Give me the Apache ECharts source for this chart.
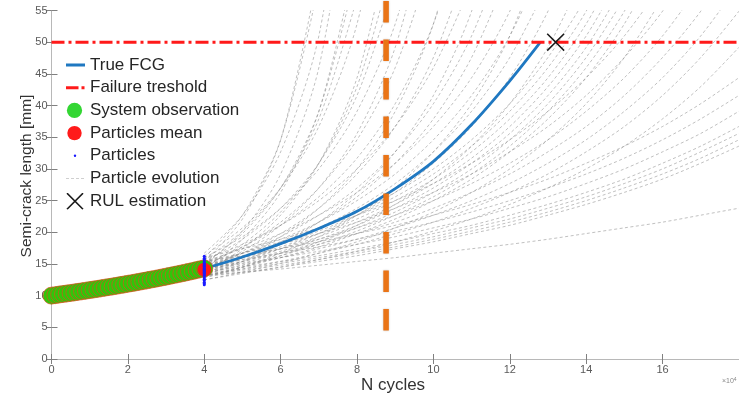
<!DOCTYPE html>
<html>
<head>
<meta charset="utf-8">
<script src="https://cdn.jsdelivr.net/npm/echarts@6/dist/echarts.min.js"></script>
<style>
html,body{margin:0;padding:0;background:#fff;}
#chart{width:739px;height:396px;}
</style>
</head>
<body>
<div id="chart"></div>
<script>
// ---------- data ----------
const xTicks = [0, 2, 4, 6, 8, 10, 12, 14, 16];          // N cycles (x10^4)
const yTicks = [0, 5, 10, 15, 20, 25, 30, 35, 40, 45, 50, 55];

const trueN = [0, 1, 2, 3, 4, 5, 6, 7, 8, 9, 10, 11, 12, 12.8];
const trueA = [10, 10.9, 11.9, 13.0, 14.3, 16.1, 18.2, 20.6, 23.3, 26.9, 31.2, 37.0, 43.9, 50.0];

const obsN = [0, 0.1, 0.2, 0.3, 0.4, 0.5, 0.6, 0.7, 0.8, 0.9, 1.0, 1.1, 1.2, 1.3, 1.4, 1.5, 1.6, 1.7, 1.8, 1.9, 2.0,
              2.1, 2.2, 2.3, 2.4, 2.5, 2.6, 2.7, 2.8, 2.9, 3.0, 3.1, 3.2, 3.3, 3.4, 3.5, 3.6, 3.7, 3.8, 3.9, 4.0];
const obsA = [10.0, 10.08, 10.17, 10.25, 10.34, 10.42, 10.51, 10.60, 10.69, 10.78, 10.87, 10.97, 11.06, 11.16, 11.26, 11.35, 11.45, 11.55, 11.66, 11.76, 11.87,
              11.97, 12.08, 12.19, 12.30, 12.41, 12.53, 12.64, 12.76, 12.88, 13.00, 13.12, 13.25, 13.37, 13.50, 13.63, 13.76, 13.89, 14.03, 14.17, 14.30];

const meanN = [4];
const meanA = [14.1];

const particleN = 4;
const particleA = [11.7, 11.9, 12.1, 12.4, 12.6, 12.8, 13.0, 13.2, 13.4, 13.5, 13.7, 13.8, 14.0, 14.1, 14.2, 14.3, 14.5, 14.6, 14.8, 15.0, 15.1, 15.3, 15.5, 15.7, 15.9, 16.2];

const thresholdN = [0, 18];
const thresholdA = [50, 50];

const rulN = [13.2];
const rulA = [50];

const cutN = [8.76, 8.76];
const cutA = [56.5, 4.3];

const evolutionN = [4, 5, 6, 7, 8, 9, 10, 11, 12, 13, 14, 15, 16, 17, 18];
const particleEvolution = [
  [15.4, 22.1, 34.6, 61.5],
  [16.0, 22.7, 34.6, 59.2],
  [14.8, 20.2, 29.2, 46.0, 82.6],
  [16.7, 22.7, 32.7, 51.0, 90.7],
  [14.2, 18.9, 26.3, 39.1, 64.0],
  [15.1, 19.8, 27.0, 39.1, 61.5],
  [13.7, 17.4, 22.7, 30.9, 44.4, 69.4],
  [15.7, 20.2, 27.0, 37.9, 57.0],
  [14.5, 18.1, 23.2, 30.9, 43.0, 64.0],
  [16.3, 20.7, 27.0, 36.7, 52.9, 82.6],
  [14.0, 17.0, 21.1, 27.0, 35.6, 49.2, 72.4],
  [15.4, 18.9, 23.8, 30.9, 41.6, 59.2],
  [14.8, 17.7, 21.6, 27.0, 34.6, 46.0, 64.0],
  [13.5, 16.0, 19.3, 23.8, 30.0, 39.1, 52.9, 75.6],
  [16.0, 19.3, 23.8, 30.0, 39.1, 52.9, 75.6],
  [14.2, 16.7, 19.8, 23.8, 29.2, 36.7, 47.6, 64.0],
  [15.1, 17.7, 21.1, 25.6, 31.7, 40.3, 52.9, 72.4],
  [13.2, 15.4, 18.1, 21.6, 26.3, 32.7, 41.6, 54.9, 75.6],
  [14.5, 16.7, 19.3, 22.7, 27.0, 32.7, 40.3, 51.0, 66.6],
  [14.0, 16.0, 18.5, 21.6, 25.6, 30.9, 37.9, 47.6, 61.5],
  [15.7, 18.1, 21.1, 25.0, 30.0, 36.7, 46.0, 59.2],
  [12.8, 14.5, 16.7, 19.3, 22.7, 27.0, 32.7, 40.3, 51.0, 66.6],
  [13.7, 15.4, 17.4, 19.8, 22.7, 26.3, 30.9, 36.7, 44.4, 54.9, 69.4],
  [14.8, 16.7, 18.9, 21.6, 25.0, 29.2, 34.6, 41.6, 51.0, 64.0],
  [13.0, 14.5, 16.3, 18.5, 21.1, 24.4, 28.4, 33.6, 40.3, 49.2, 61.5],
  [14.2, 16.0, 18.1, 20.7, 23.8, 27.7, 32.7, 39.1, 47.6, 59.2],
  [15.4, 17.4, 19.8, 22.7, 26.3, 30.9, 36.7, 44.4, 54.9, 69.4],
  [13.5, 14.8, 16.3, 18.1, 20.2, 22.7, 25.6, 29.2, 33.6, 39.1, 46.0, 54.9, 66.6],
  [14.5, 16.0, 17.7, 19.8, 22.1, 25.0, 28.4, 32.7, 37.9, 44.4, 52.9, 64.0],
  [14.0, 15.4, 17.0, 18.9, 21.1, 23.8, 27.0, 30.9, 35.6, 41.6, 49.2, 59.2],
  [15.1, 16.7, 18.5, 20.7, 23.2, 26.3, 30.0, 34.6, 40.3, 47.6, 57.0],
  [13.2, 14.5, 16.0, 17.7, 19.8, 22.1, 25.0, 28.4, 32.7, 37.9, 44.4, 52.9, 64.0],
  [14.2, 15.7, 17.4, 19.3, 21.6, 24.4, 27.7, 31.7, 36.7, 43.0, 51.0, 61.5],
  [14.8, 16.3, 18.1, 20.2, 22.7, 25.6, 29.2, 33.6, 39.1, 46.0, 54.9, 66.6],
  [12.5, 13.7, 15.1, 16.7, 18.5, 20.7, 23.2, 26.3, 30.0, 34.6, 40.3, 47.6, 57.0],
  [13.7, 15.1, 16.7, 18.5, 20.7, 23.2, 26.3, 30.0, 34.6, 40.3, 47.6, 57.0],
  [13.2, 14.2, 15.4, 16.7, 18.1, 19.8, 21.6, 23.8, 26.3, 29.2, 32.7, 36.7, 41.6, 47.6, 54.9],
  [14.2, 15.4, 16.7, 18.1, 19.8, 21.6, 23.8, 26.3, 29.2, 32.7, 36.7, 41.6, 47.6, 54.9, 64.0],
  [13.7, 14.8, 16.0, 17.4, 18.9, 20.7, 22.7, 25.0, 27.7, 30.9, 34.6, 39.1, 44.4, 51.0, 59.2],
  [14.8, 16.0, 17.4, 18.9, 20.7, 22.7, 25.0, 27.7, 30.9, 34.6, 39.1, 44.4, 51.0, 59.2],
  [15.4, 16.7, 18.1, 19.8, 21.6, 23.8, 26.3, 29.2, 32.7, 36.7, 41.6, 47.6, 54.9, 64.0],
  [12.5, 13.5, 14.5, 15.7, 17.0, 18.5, 20.2, 22.1, 24.4, 27.0, 30.0, 33.6, 37.9, 43.0, 49.2],
  [16.0, 17.4, 18.9, 20.7, 22.7, 25.0, 27.7, 30.9, 34.6, 39.1, 44.4, 51.0, 59.2],
  [15.4, 16.3, 17.4, 18.5, 19.8, 21.1, 22.7, 24.4, 26.3, 28.4, 30.9, 33.6, 36.7, 40.3, 44.4],
  [14.2, 15.1, 16.0, 17.0, 18.1, 19.3, 20.7, 22.1, 23.8, 25.6, 27.7, 30.0, 32.7, 35.6, 39.1],
  [13.7, 14.5, 15.4, 16.3, 17.4, 18.5, 19.8, 21.1, 22.7, 24.4, 26.3, 28.4, 30.9, 33.6, 36.7],
  [14.8, 15.7, 16.7, 17.7, 18.9, 20.2, 21.6, 23.2, 25.0, 27.0, 29.2, 31.7, 34.6, 37.9, 41.6],
  [13.0, 13.7, 14.5, 15.4, 16.3, 17.4, 18.5, 19.8, 21.1, 22.7, 24.4, 26.3, 28.4, 30.9, 33.6],
  [13.2, 13.7, 14.2, 14.8, 15.4, 16.0, 16.7, 17.4, 18.1, 18.9, 19.8, 20.7, 21.6, 22.7, 23.8],
  [13.2, 14.0, 14.8, 15.7, 16.7, 17.7, 18.9, 20.2, 21.6, 23.2, 25.0, 27.0, 29.2, 31.7, 34.6],
  [13.5, 14.2, 15.1, 16.0, 17.0, 18.1, 19.3, 20.7, 22.1, 23.8, 25.6, 27.7, 30.0, 32.7, 35.6]
];

const legendNames = ['True FCG', 'Failure treshold', 'System observation', 'Particles mean', 'Particles', 'Particle evolution', 'RUL estimation'];

// ---------- chart ----------
const FONT = '"Liberation Sans", Arial, Helvetica, sans-serif';
const pairs = (xs, ys) => ys.map((y, i) => [xs[i], y]);
const svgIcon = body => 'image://data:image/svg+xml;charset=utf-8,' + encodeURIComponent(
  '<svg xmlns="http://www.w3.org/2000/svg" width="19" height="17" viewBox="0 0 19 17">' + body + '</svg>');

const icons = {
  'True FCG': svgIcon('<line x1="0" y1="8.5" x2="19" y2="8.5" stroke="#1f78c1" stroke-width="3"/>'),
  'Failure treshold': svgIcon('<line x1="0" y1="8.5" x2="12.5" y2="8.5" stroke="#ff1a1a" stroke-width="3"/><line x1="15.5" y1="8.5" x2="18.5" y2="8.5" stroke="#ff1a1a" stroke-width="3"/>'),
  'System observation': svgIcon('<circle cx="8.5" cy="8.5" r="7.6" fill="#33d633"/>'),
  'Particles mean': svgIcon('<circle cx="8.5" cy="8.5" r="7.2" fill="#ff1a1a"/>'),
  'Particles': svgIcon('<circle cx="9" cy="8.5" r="1.2" fill="#1a1aff"/>'),
  'Particle evolution': svgIcon('<line x1="0" y1="8.5" x2="19" y2="8.5" stroke="#cfcfcf" stroke-width="1" stroke-dasharray="3 2"/>'),
  'RUL estimation': svgIcon('<path d="M1 0.5 L17 16.5 M17 0.5 L1 16.5" stroke="#1a1a1a" stroke-width="1.6"/>')
};

const xPath = 'path://M1.2,0 L10,8.8 L18.8,0 L20,1.2 L11.2,10 L20,18.8 L18.8,20 L10,11.2 L1.2,20 L0,18.8 L8.8,10 L0,1.2 Z';

const axisCommon = {
  type: 'value',
  axisLine: { show: true, lineStyle: { color: '#b8b8b8', width: 1 } },
  axisTick: { show: true, inside: true, length: 5, lineStyle: { color: '#808080', width: 1 } },
  splitLine: { show: false }
};

const series = [];
particleEvolution.forEach(vals => {
  series.push({
    name: 'Particle evolution', type: 'line', data: pairs(evolutionN, vals),
    smooth: 0.3, showSymbol: false, symbol: 'none', silent: true, z: 1,
    lineStyle: { color: 'rgba(130,130,130,0.6)', width: 0.85, type: [3, 2.5] }
  });
});
series.push({
  name: 'True FCG', type: 'line', data: pairs(trueN, trueA), smooth: 0.3,
  showSymbol: false, symbol: 'none', z: 3, lineStyle: { color: '#1f78c1', width: 2.8 }
});
series.push({
  name: 'Failure treshold', type: 'line', data: pairs(thresholdN, thresholdA),
  showSymbol: false, symbol: 'none', z: 3, lineStyle: { color: '#ff1a1a', width: 3, type: [13, 4, 3, 4] }
});
series.push({
  name: 'System observation', type: 'scatter', data: pairs(obsN, obsA), symbol: 'circle', symbolSize: 17, z: 4,
  itemStyle: { color: '#30c60a', borderColor: '#d9501c', borderWidth: 0.7, opacity: 1 }
});
series.push({
  name: 'Particles mean', type: 'scatter', data: pairs(meanN, meanA), symbol: 'circle', symbolSize: 14, z: 5,
  itemStyle: { color: '#ff1a1a', opacity: 1 }
});
series.push({
  name: 'Particles', type: 'scatter', data: particleA.map(a => [particleN, a]), symbol: 'circle', symbolSize: 3, z: 6,
  itemStyle: { color: '#1a1aff', opacity: 1 }
});
series.push({
  name: 'RUL estimation', type: 'scatter', data: pairs(rulN, rulA), symbol: xPath, symbolSize: 18, z: 7,
  itemStyle: { color: '#1a1a1a', opacity: 1 }
});
series.push({
  name: 'cut', type: 'line', data: pairs(cutN, cutA), clip: false, silent: true,
  showSymbol: false, symbol: 'none', z: 10,
  lineStyle: { color: '#ea7416', width: 5.5, type: [21.5, 17], shadowColor: 'rgba(0,0,0,0.25)', shadowBlur: 2 }
});

const chart = echarts.init(document.getElementById('chart'), null, { renderer: 'canvas' });
chart.setOption({
  animation: false,
  backgroundColor: '#ffffff',
  grid: { left: 51.5, top: 10.5, width: 690.3, height: 348.5, containLabel: false },
  xAxis: [
    Object.assign({}, axisCommon, {
      min: xTicks[0], max: 18, interval: 2, position: 'bottom',
      axisLabel: { show: true, showMaxLabel: false, color: '#5a5a5a', fontSize: 11, fontFamily: FONT, margin: 5 }
    }),
    Object.assign({}, axisCommon, {
      min: xTicks[0], max: 18, interval: 2, position: 'top', axisLabel: { show: false }
    })
  ],
  yAxis: [
    Object.assign({}, axisCommon, {
      min: yTicks[0], max: yTicks[yTicks.length - 1], interval: 5, position: 'left',
      axisTick: { show: true, inside: true, length: 6, lineStyle: { color: '#808080', width: 1 } },
      axisLabel: { show: true, color: '#5a5a5a', fontSize: 11, fontFamily: FONT, margin: 4 }
    }),
    Object.assign({}, axisCommon, {
      min: yTicks[0], max: yTicks[yTicks.length - 1], interval: 5, position: 'right', axisLabel: { show: false }
    })
  ],
  legend: {
    orient: 'vertical', left: 66, top: 56.5, padding: 0,
    itemWidth: 19, itemHeight: 17, itemGap: 5.7, selectedMode: false,
    textStyle: { fontSize: 17, color: '#262626', fontFamily: FONT },
    data: legendNames.map(n => ({ name: n, icon: icons[n] }))
  },
  graphic: [
    { type: 'text', x: 27, y: 176, rotation: Math.PI / 2,
      style: { text: 'Semi-crack length [mm]', fill: '#333333', font: '15.5px ' + FONT, textAlign: 'center', textVerticalAlign: 'middle' } },
    { type: 'text', x: 393, y: 385,
      style: { text: 'N cycles', fill: '#333333', font: '17px ' + FONT, textAlign: 'center', textVerticalAlign: 'middle' } },
    { type: 'text', x: 722, y: 381,
      style: { text: '×10{s|4}', rich: { s: { fontSize: 5, verticalAlign: 'top', fill: '#888' } }, fill: '#888888', font: '7px ' + FONT, textAlign: 'left', textVerticalAlign: 'middle' } }
  ],
  series: series
});
</script>
</body>
</html>
